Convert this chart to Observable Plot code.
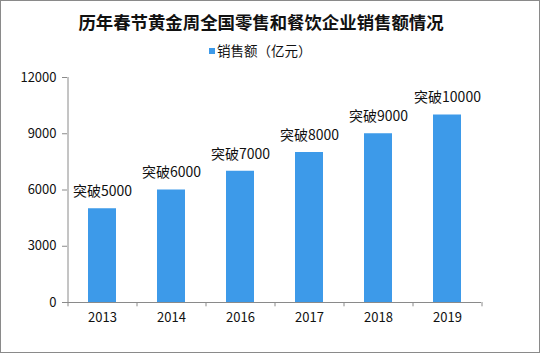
<!DOCTYPE html>
<html>
<head>
<meta charset="utf-8">
<script src="https://cdn.jsdelivr.net/npm/d3@7"></script>
<script src="https://cdn.jsdelivr.net/npm/@observablehq/plot@0.6"></script>
<style>
  body { margin: 0; background: #fff; }
  #wrap { position: relative; width: 540px; height: 353px; overflow: hidden; font-family: "Noto Sans CJK SC", sans-serif; }
  #chart { position: absolute; left: 0; top: 0; }
  #title { position: absolute; left: 0; width: 522px; top: 8px; text-align: center; font-size: 17.4px; font-weight: bold; color: #111; line-height: 28px; }
  #legend { position: absolute; left: 209px; top: 40px; font-size: 13.5px; color: #111; line-height: 20px; }
  #legend span.sw { display: inline-block; width: 6px; height: 6px; background: #3d9ae9; margin-right: 2px; vertical-align: 2px; }
  #border { position: absolute; left: 0; top: 0; width: 538px; height: 351px; border: 1px solid #8a8a8a; pointer-events: none; }
</style>
</head>
<body>
<div id="wrap">
  <div id="chart"></div>
  <div id="title">历年春节黄金周全国零售和餐饮企业销售额情况</div>
  <div id="legend"><span class="sw"></span>销售额（亿元）</div>
  <div id="border"></div>
</div>
<script>
const years = ["2013", "2014", "2016", "2017", "2018", "2019"];
const sales = [5000, 6000, 7000, 8000, 9000, 10000];
const barLabels = ["突破5000", "突破6000", "突破7000", "突破8000", "突破9000", "突破10000"];
const yTicks = [0, 3000, 6000, 9000, 12000];

const data = years.map((y, i) => ({ year: y, value: sales[i], label: barLabels[i] }));

const W = 540, H = 353, mL = 67, mR = 59, mT = 77, mB = 51;
const step = (W - mL - mR) / years.length;

const chart = Plot.plot({
  width: W,
  height: H,
  marginLeft: mL,
  marginRight: mR,
  marginTop: mT,
  marginBottom: mB,
  style: { fontFamily: "'Noto Sans CJK SC', sans-serif", background: "transparent", color: "#111" },
  x: { domain: years, paddingInner: 0.6, paddingOuter: 0.3, label: null },
  y: { domain: [0, 12000], label: null },
  marks: [
    Plot.barY(data, { x: "year", y: "value", fill: "#3d9ae9" }),
    Plot.ruleY([0], { stroke: "#8a8a8a" }),
    Plot.ruleX([years[0]], { dx: -step / 2, y1: 0, y2: 12000, stroke: "#8a8a8a" }),
    Plot.ruleX([years[0]], { dx: -step / 2, y1: 0, y2: -230, stroke: "#8a8a8a" }),
    Plot.ruleX(years, { dx: step / 2, y1: 0, y2: -230, stroke: "#8a8a8a" }),
    Plot.axisX({ tickSize: 0, tickPadding: 10, fontSize: 13, fill: "#111" }),
    Plot.axisY({ ticks: yTicks, tickFormat: d => String(d), tickSize: 5, tickPadding: 6, fontSize: 13, stroke: "#8a8a8a", fill: "#111" }),
    Plot.text(data, { x: "year", y: "value", text: "label", dy: -17, fontSize: 14, fill: "#111" })
  ]
});
document.getElementById("chart").appendChild(chart);
</script>
</body>
</html>
